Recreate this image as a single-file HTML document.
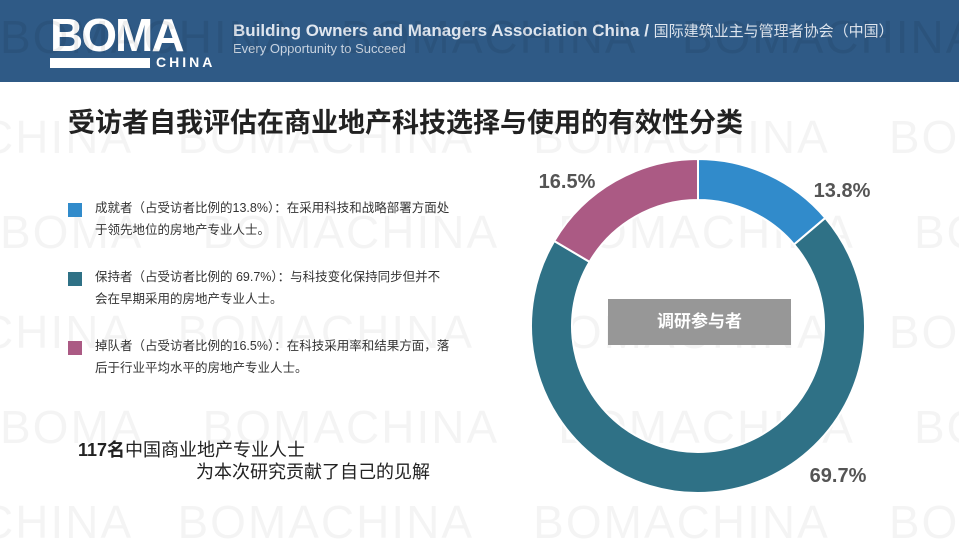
<!DOCTYPE html>
<html><head><meta charset="utf-8">
<style>
body{margin:0;width:959px;height:539px;overflow:hidden;background:#fff;font-family:"Liberation Sans","Noto Sans CJK SC",sans-serif;position:relative}
.hdr{position:absolute;left:0;top:0;width:959px;height:82px;background:#2f5a86}
.wm{position:absolute;font-size:46px;color:rgba(0,0,0,0.045);letter-spacing:2px;white-space:nowrap;font-family:"Liberation Sans",sans-serif}
.t{position:absolute;white-space:nowrap}
.leg{position:absolute;left:68px;width:14px;height:14px}
.lt{position:absolute;left:95px;font-size:12.5px;color:#333;line-height:22px}
</style></head><body>
<div class="hdr"></div>
<div class="t" style="left:50px;top:8px;font-size:46px;font-weight:bold;color:#fff;letter-spacing:-2px">BOMA</div>
<div style="position:absolute;left:50px;top:58px;width:100px;height:10px;background:#fff"></div>
<div class="t" style="left:156px;top:54px;font-size:14px;font-weight:bold;color:#fff;letter-spacing:3px">CHINA</div>
<div class="t" style="left:233px;top:20px;font-size:17px;font-weight:bold;color:#dfe6ef">Building Owners and Managers Association China / <span style="font-weight:normal;font-size:15px">国际建筑业主与管理者协会（中国）</span></div>
<div class="t" style="left:233px;top:41px;font-size:13px;color:#c8d3e0">Every Opportunity to Succeed</div>
<div class="wm" style="left:0;top:10px;color:rgba(0,0,0,0.07)">BOMACHINA&nbsp;&nbsp;&nbsp;BOMACHINA&nbsp;&nbsp;&nbsp;BOMACHINA</div>
<div class="wm" style="left:-20px;top:110px">CHINA&nbsp;&nbsp;&nbsp;BOMACHINA&nbsp;&nbsp;&nbsp;&nbsp;BOMACHINA&nbsp;&nbsp;&nbsp;&nbsp;BOMA</div>
<div class="wm" style="left:0;top:205px">BOMA&nbsp;&nbsp;&nbsp;&nbsp;BOMACHINA&nbsp;&nbsp;&nbsp;&nbsp;BOMACHINA&nbsp;&nbsp;&nbsp;&nbsp;BOMA</div>
<div class="wm" style="left:-20px;top:305px">CHINA&nbsp;&nbsp;&nbsp;BOMACHINA&nbsp;&nbsp;&nbsp;&nbsp;BOMACHINA&nbsp;&nbsp;&nbsp;&nbsp;BOMA</div>
<div class="wm" style="left:0;top:400px">BOMA&nbsp;&nbsp;&nbsp;&nbsp;BOMACHINA&nbsp;&nbsp;&nbsp;&nbsp;BOMACHINA&nbsp;&nbsp;&nbsp;&nbsp;BOMA</div>
<div class="wm" style="left:-20px;top:495px">CHINA&nbsp;&nbsp;&nbsp;BOMACHINA&nbsp;&nbsp;&nbsp;&nbsp;BOMACHINA&nbsp;&nbsp;&nbsp;&nbsp;BOMA</div>
<div class="t" style="left:68px;top:101px;font-size:27px;font-weight:bold;color:#222">受访者自我评估在商业地产科技选择与使用的有效性分类</div>
<div class="leg" style="top:203px;background:#318bcb"></div>
<div class="lt" style="top:197px">成就者（占受访者比例的13.8%）：在采用科技和战略部署方面处<br>于领先地位的房地产专业人士。</div>
<div class="leg" style="top:272px;background:#2f7186"></div>
<div class="lt" style="top:266px">保持者（占受访者比例的 69.7%）：与科技变化保持同步但并不<br>会在早期采用的房地产专业人士。</div>
<div class="leg" style="top:341px;background:#ab5a84"></div>
<div class="lt" style="top:335px">掉队者（占受访者比例的16.5%）：在科技采用率和结果方面，落<br>后于行业平均水平的房地产专业人士。</div>
<div class="t" style="left:78px;top:436px;font-size:18px;color:#222"><b>117名</b>中国商业地产专业人士</div>
<div class="t" style="left:196px;top:458px;font-size:18px;color:#222">为本次研究贡献了自己的见解</div>
<svg id="chart" width="959" height="539" style="position:absolute;left:0;top:0"></svg>
<div class="t" style="left:608px;top:299px;width:183px;height:46px;background:#979797;color:#fff;font-size:17px;font-weight:bold;text-align:center;line-height:46px">调研参与者</div>
<script>
const categories=["成就者","保持者","掉队者"];
const values=[13.8,69.7,16.5];
const labels=["13.8%","69.7%","16.5%"];
const colors=["#318bcb","#2f7186","#ab5a84"];
const cx=698,cy=326,R=167,r=126;
const svg=document.getElementById('chart');
const NS="http://www.w3.org/2000/svg";
const total=values.reduce((a,b)=>a+b,0);
function pt(a,rad){return [cx+rad*Math.sin(a),cy-rad*Math.cos(a)];}
let a0=0;
const labelPos=[[842,197],[838,482],[567,188]];
values.forEach((v,i)=>{
  const a1=a0+v/total*2*Math.PI;
  const large=(a1-a0)>Math.PI?1:0;
  const [x0,y0]=pt(a0,R),[x1,y1]=pt(a1,R),[x2,y2]=pt(a1,r),[x3,y3]=pt(a0,r);
  const p=document.createElementNS(NS,'path');
  p.setAttribute('d',`M${x0},${y0}A${R},${R} 0 ${large} 1 ${x1},${y1}L${x2},${y2}A${r},${r} 0 ${large} 0 ${x3},${y3}Z`);
  p.setAttribute('fill',colors[i]);p.setAttribute('stroke','#fff');p.setAttribute('stroke-width','2');
  
  
  svg.appendChild(p);
  const t=document.createElementNS(NS,'text');
  t.setAttribute('x',labelPos[i][0]);t.setAttribute('y',labelPos[i][1]);
  t.setAttribute('text-anchor','middle');t.setAttribute('font-size','20');t.setAttribute('font-weight','bold');
  t.setAttribute('fill','#555');t.setAttribute('font-family','Liberation Sans, sans-serif');
  t.textContent=labels[i];
  
  
  svg.appendChild(t);
  a0=a1;
});
</script>
</body></html>
